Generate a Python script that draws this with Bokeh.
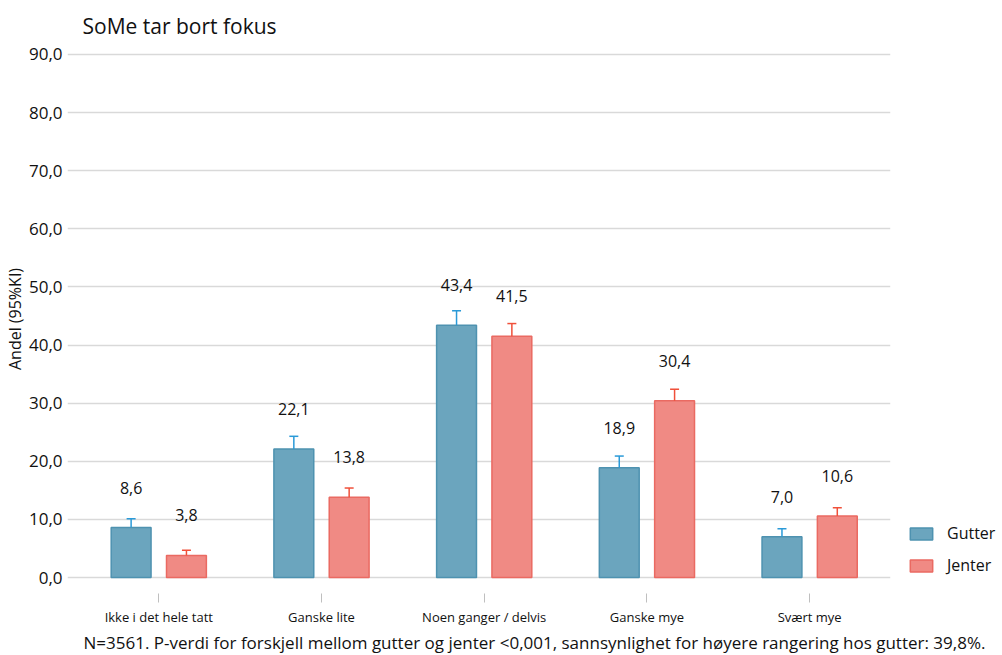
from bokeh.plotting import figure
from bokeh.models import (ColumnDataSource, FixedTicker, Legend, LegendItem, Title,
                          Whisker, TeeHead, CustomJSTickFormatter, Range1d)
from bokeh.core.properties import value
from bokeh.embed import file_html
from bokeh.resources import INLINE

categories = ["Ikke i det hele tatt", "Ganske lite", "Noen ganger / delvis", "Ganske mye", "Svært mye"]
gutter = [8.6, 22.1, 43.4, 18.9, 7.0]
gutter_upper = [10.1, 24.3, 45.9, 20.9, 8.4]
jenter = [3.8, 13.8, 41.5, 30.4, 10.6]
jenter_upper = [4.7, 15.4, 43.7, 32.4, 12.0]
title_text = "SoMe tar bort fokus"
footnote = "N=3561. P-verdi for forskjell mellom gutter og jenter <0,001, sannsynlighet for høyere rangering hos gutter: 39,8%."

FONT = "Open Sans"
G_FILL, G_LINE, G_ERR = "#6ba5be", "#4e92b0", "#2a9ad8"
J_FILL, J_LINE, J_ERR = "#f08a84", "#ea6a62", "#f0503a"

idx = list(range(len(categories)))
off = 0.17
src_g = ColumnDataSource(dict(x=[i - off for i in idx], top=gutter, upper=gutter_upper,
                              lab=[f"{v:.1f}".replace(".", ",") for v in gutter]))
src_j = ColumnDataSource(dict(x=[i + off for i in idx], top=jenter, upper=jenter_upper,
                              lab=[f"{v:.1f}".replace(".", ",") for v in jenter]))

p = figure(frame_width=823, frame_height=549, output_backend="svg", toolbar_location=None,
           x_range=Range1d(-0.561, 4.497), y_range=Range1d(-2.75, 91.72),
           min_border_left=67, min_border_right=0, min_border_top=44, min_border_bottom=0)
p.outline_line_color = None
p.background_fill_color = "white"
p.border_fill_color = "white"

p.title.text = title_text
p.title.text_font = FONT
p.title.text_font_size = "21px"
p.title.text_font_style = "normal"
p.title.align = "left"
p.title.offset = 15
p.title.text_color = "#111111"

bw = 0.245
rg = p.vbar(x="x", top="top", width=bw, source=src_g, fill_color=G_FILL, line_color=G_LINE, line_width=1.5)
rj = p.vbar(x="x", top="top", width=bw, source=src_j, fill_color=J_FILL, line_color=J_LINE, line_width=1.5)

for src, col in ((src_g, G_ERR), (src_j, J_ERR)):
    w = Whisker(source=src, base="x", lower="top", upper="upper", line_color=col, line_width=1.5,
                upper_head=TeeHead(size=9, line_color=col, line_width=1.5), lower_head=None, level="overlay")
    p.add_layout(w)
    p.text(x="x", y="top", text="lab", source=src, text_align="center", text_baseline="middle",
           y_offset=-40, text_font=value(FONT), text_font_size="16px", text_color="#111111")

# axes
p.xaxis.ticker = FixedTicker(ticks=idx)
p.xaxis.major_label_overrides = {i: c for i, c in zip(idx, categories)}
p.xaxis.axis_line_color = None
p.xaxis.major_tick_out = 9
p.xaxis.major_tick_in = 0
p.xaxis.major_tick_line_color = "#bfbfbf"
p.xaxis.minor_tick_line_color = None
p.xaxis.major_label_text_font = FONT
p.xaxis.major_label_text_font_size = "13px"
p.xaxis.major_label_standoff = 5
p.xaxis.major_label_text_color = "#111111"

p.yaxis.ticker = FixedTicker(ticks=[0, 10, 20, 30, 40, 50, 60, 70, 80, 90])
p.yaxis.formatter = CustomJSTickFormatter(code="return tick.toFixed(1).replace('.', ',');")
p.yaxis.axis_line_color = None
p.yaxis.major_tick_out = 0
p.yaxis.major_tick_in = 0
p.yaxis.minor_tick_line_color = None
p.yaxis.major_label_text_font = FONT
p.yaxis.major_label_text_font_size = "17px"
p.yaxis.major_label_standoff = 5
p.yaxis.major_label_text_color = "#111111"
p.yaxis.axis_label = "Andel (95%KI)"
p.yaxis.axis_label_text_font = FONT
p.yaxis.axis_label_text_font_size = "16px"
p.yaxis.axis_label_text_font_style = "normal"
p.yaxis.axis_label_standoff = 0
p.yaxis.axis_label_text_color = "#111111"

p.xgrid.grid_line_color = None
p.ygrid.grid_line_color = "#d9d9d9"
p.ygrid.grid_line_width = 1.5

legend = Legend(items=[LegendItem(label="Gutter", renderers=[rg]), LegendItem(label="Jenter", renderers=[rj])],
                location="bottom_left", orientation="vertical")
legend.border_line_color = None
legend.background_fill_alpha = 0
legend.label_text_font = FONT
legend.label_text_font_size = "16px"
legend.label_text_color = "#111111"
legend.glyph_width = 28
legend.glyph_height = 15
legend.spacing = 10
legend.padding = 6
legend.margin = 17
legend.label_standoff = 12
p.add_layout(legend, "right")

p.add_layout(Title(text=footnote, align="left", offset=16, standoff=0, text_font=FONT, text_font_size="17px",
                   text_font_style="normal", text_color="#111111"), "below")

open("out.html", "w").write(file_html(p, INLINE))
